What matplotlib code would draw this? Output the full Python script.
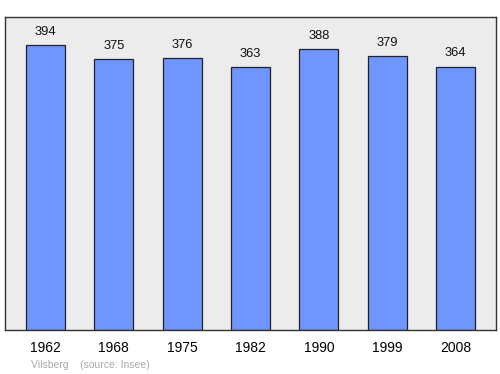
import numpy as np
import matplotlib
matplotlib.use('Agg')
import matplotlib.pyplot as plt

years = ['1962', '1968', '1975', '1982', '1990', '1999', '2008']
population = [394, 375, 376, 363, 388, 379, 364]

plt.rcParams['font.family'] = ['Liberation Sans', 'DejaVu Sans']

fig = plt.figure(figsize=(5, 3.74), dpi=100)
ax = fig.add_axes([0.01, 0.1176, 0.982, 0.8369])
ax.set_facecolor('#ececec')

x = np.arange(len(years))
ax.bar(x, population, width=0.57, color='#6f96ff',
       edgecolor='#222222', linewidth=0.9, zorder=2)

# value labels above each bar
for xi, val in zip(x, population):
    ax.text(xi, val + 10, str(val), ha='center', va='bottom',
            fontsize=9.3, color='#111111')

ax.set_xlim(-0.593, 6.593)
ax.set_ylim(0, 432.7)
ax.set_xticks(x)
ax.set_xticklabels(years, fontsize=10)
ax.tick_params(axis='x', length=0, pad=8)
ax.set_yticks([])

for s in ax.spines.values():
    s.set_color('#333333')
    s.set_linewidth(1.0)

fig.text(0.062, 0.012, 'Vilsberg    (source: Insee)', fontsize=7.5,
         color='#aaaaaa', ha='left', va='bottom')

fig.savefig('out.png', dpi=100)
